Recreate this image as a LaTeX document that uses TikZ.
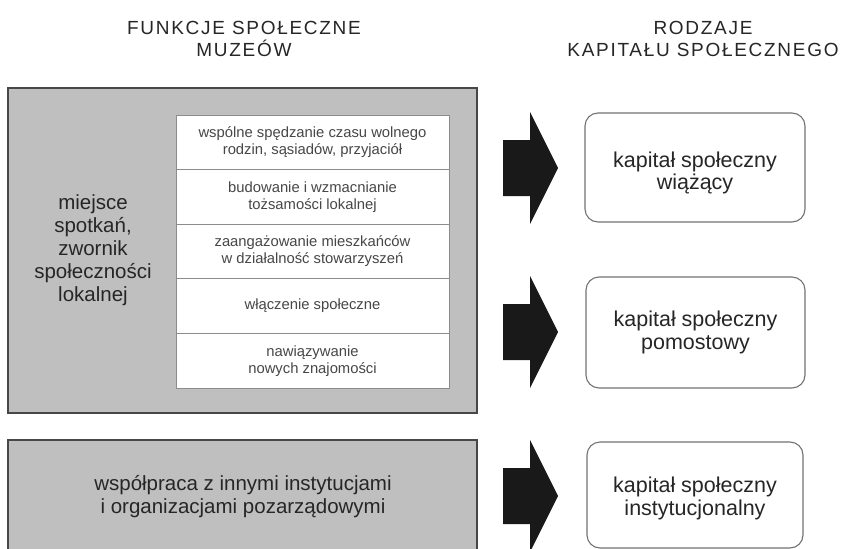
\documentclass[tikz,border=0pt]{standalone}
\usepackage{fontspec}
\setmainfont{Liberation Sans}
\newfontfamily\headfont[LetterSpace=9]{Liberation Sans}
\begin{document}
\begin{tikzpicture}[x=1pt,y=-1pt,
  graybox/.style={draw=black!72, line width=1.8pt, fill=black!25, inner sep=0pt, anchor=center},
  cell/.style={draw=black!45, line width=0.9pt, fill=white, minimum width=273pt, minimum height=54.6pt, inner sep=0pt, align=center, text=black!72, font=\fontsize{14.8}{17}\selectfont},
  capbox/.style={draw=black!55, line width=1.1pt, rounded corners=13pt, fill=white, inner sep=0pt, align=center, text=black!85, font=\fontsize{21.5}{22.5}\selectfont},
  head/.style={align=center, text=black!85, font=\headfont\fontsize{19}{22.5}\selectfont},
  bigtext/.style={align=center, text=black!85, font=\fontsize{20.5}{23}\selectfont},
  blockarrow/.style={fill=black!90}
]
\useasboundingbox (0,0) rectangle (844,549);
\fill[white] (0,0) rectangle (844,549);

% headers
\node[head] (h1) at (244,39) {FUNKCJE SPOŁECZNE\\MUZEÓW};
\node[head] (h2) at (703,39) {RODZAJE\\KAPITAŁU SPOŁECZNEGO};

% gray boxes
\node[graybox, minimum width=469pt, minimum height=325pt] (g1) at (242.5,250.5) {};
\node[graybox, minimum width=469pt, minimum height=125pt] (g2) at (242.5,502.5) {};

% table
\node[cell] (r1) at (312.5,142.3) {wspólne spędzanie czasu wolnego\\rodzin, sąsiadów, przyjaciół};
\node[cell] (r2) at (312.5,196.9) {budowanie i wzmacnianie\\tożsamości lokalnej};
\node[cell] (r3) at (312.5,251.5) {zaangażowanie mieszkańców\\w działalność stowarzyszeń};
\node[cell] (r4) at (312.5,306.1) {włączenie społeczne};
\node[cell] (r5) at (312.5,360.7) {nawiązywanie\\nowych znajomości};

\node[bigtext] (lt) at (93,250) {miejsce\\spotkań,\\zwornik\\społeczności\\lokalnej};
\node[bigtext] (bt) at (243,497) {współpraca z innymi instytucjami\\i organizacjami pozarządowymi};

% right boxes
\node[capbox, minimum width=220pt, minimum height=109pt] (c1) at (695,167.5) {\rule{0pt}{26pt}kapitał społeczny\\wiążący};
\node[capbox, minimum width=219pt, minimum height=111pt] (c2) at (695.5,332.5) {kapitał społeczny\\pomostowy};
\node[capbox, minimum width=216pt, minimum height=106pt] (c3) at (695,495) {\rule{0pt}{22pt}kapitał społeczny\\instytucjonalny};

% block arrows
\foreach \cy/\nm in {168/a1,332/a2,496/a3}{
  \coordinate (\nm) at (530,\cy);
  \fill[blockarrow] ([xshift=-27pt,yshift=28pt]\nm) -- ([yshift=28pt]\nm) -- ([yshift=56pt]\nm)
     -- ([xshift=28pt]\nm) -- ([yshift=-56pt]\nm) -- ([yshift=-28pt]\nm)
     -- ([xshift=-27pt,yshift=-28pt]\nm) -- cycle;
}
\end{tikzpicture}
\end{document}
